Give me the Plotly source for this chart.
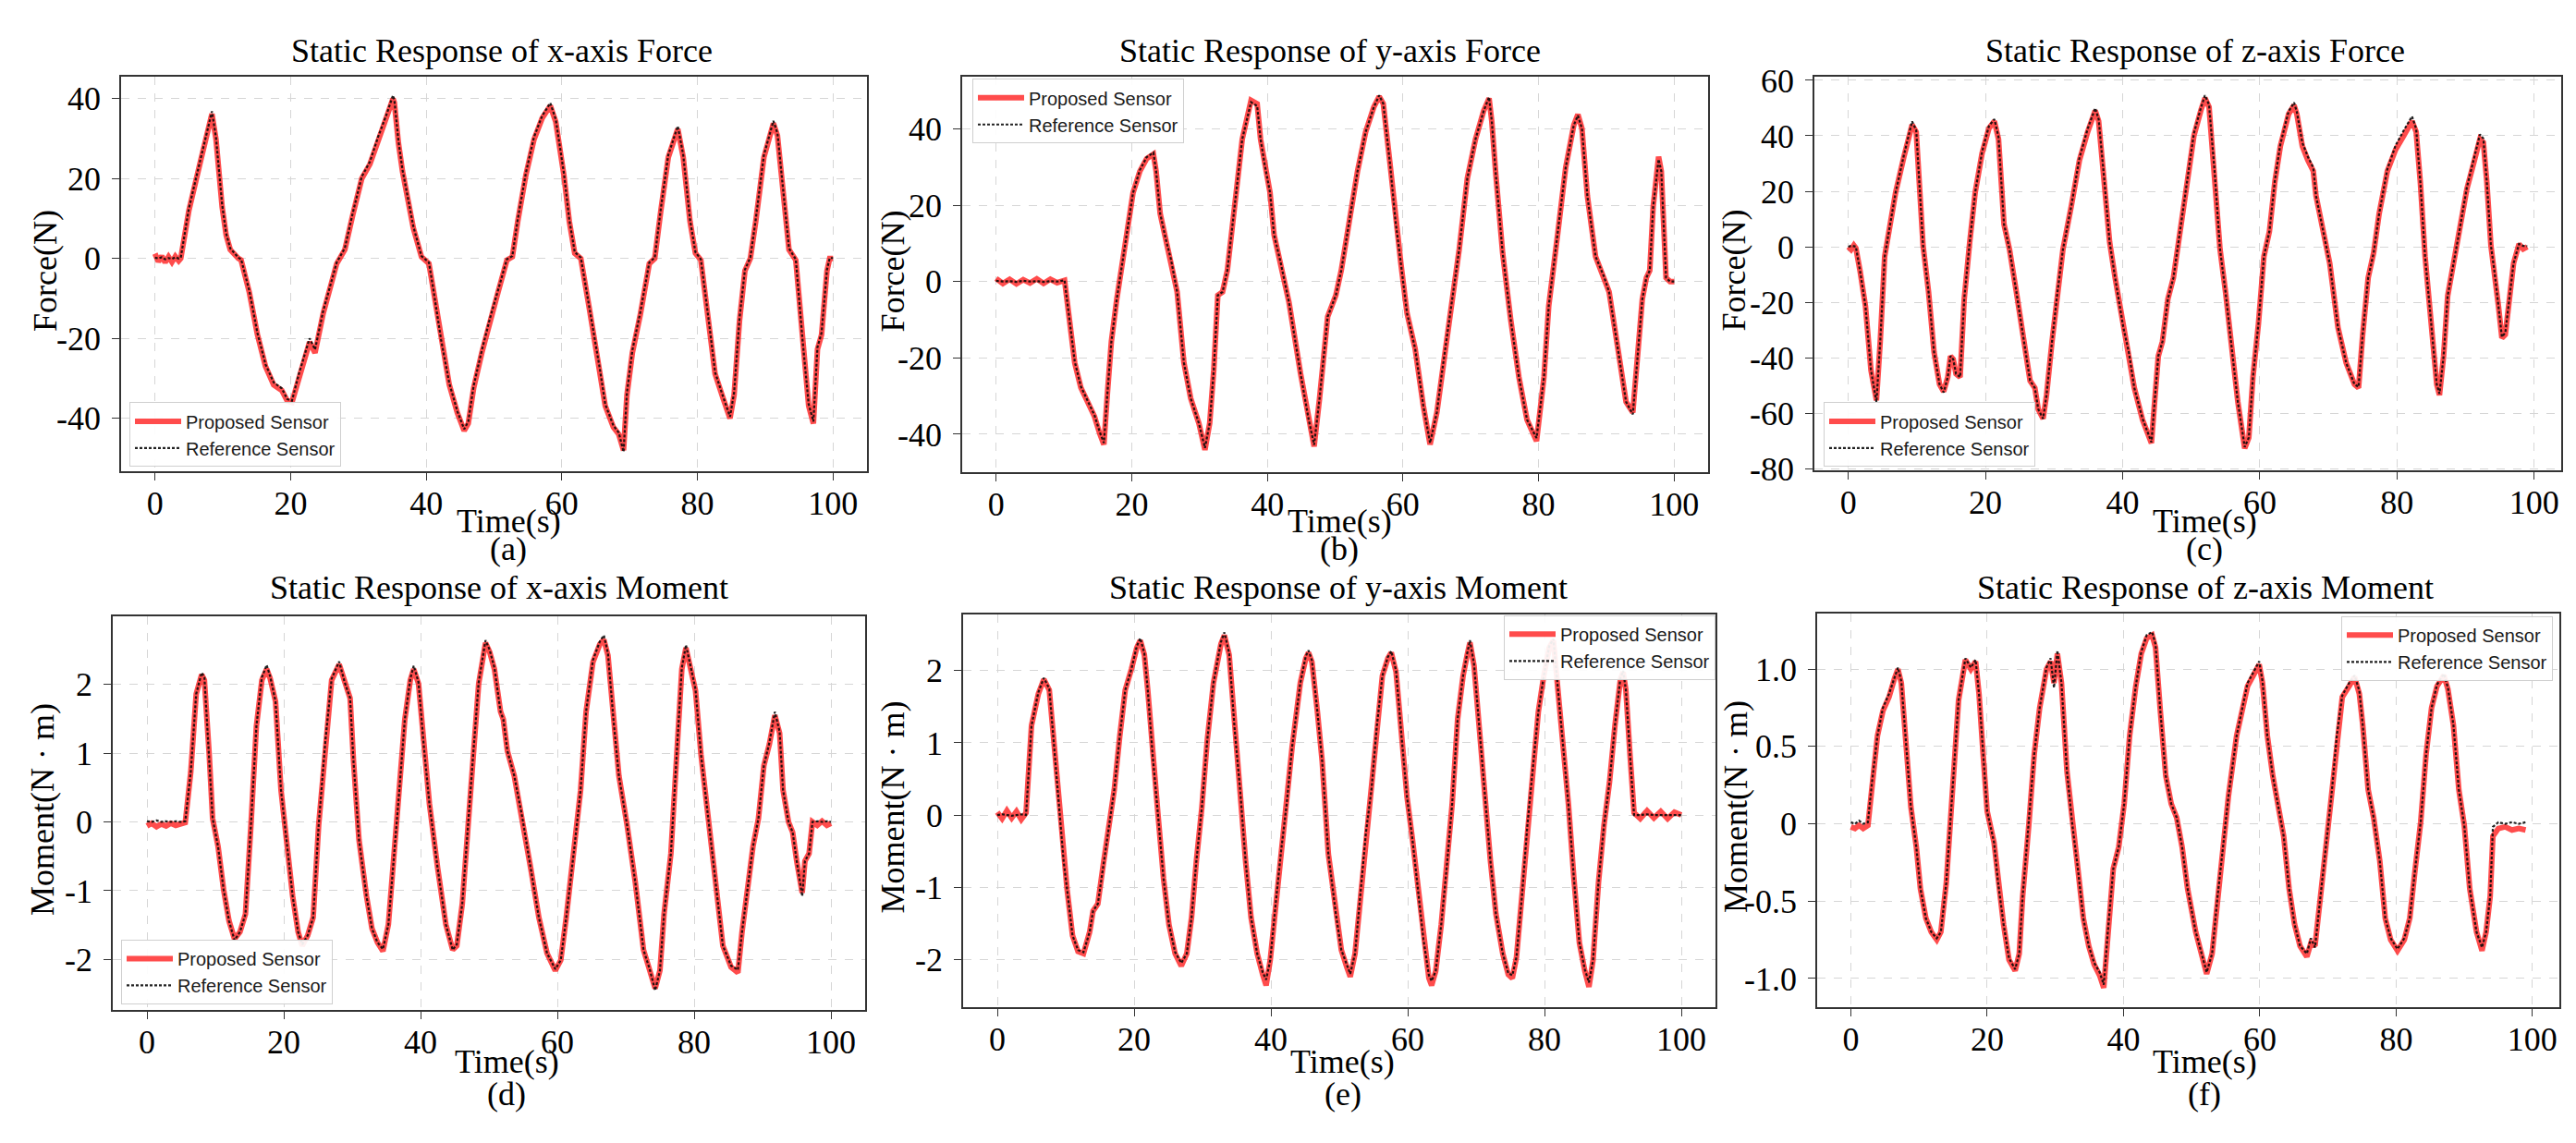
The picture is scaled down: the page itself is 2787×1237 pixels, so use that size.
import plotly.graph_objects as go

# ---------------- data ----------------
t_a = [0, 0.5, 1.0, 1.5, 2.0, 2.5, 3.0, 3.5, 3.8, 5.0,
       6.6, 8.2, 8.4, 9.0, 9.9, 10.5, 11.1, 12.3, 12.7, 13.9,
       15.1, 16.3, 17.5, 18.7, 19.5, 20.2, 21.2, 22.8, 23.6, 24.8,
       26.8, 27.2, 28.0, 29.2, 30.5, 31.7, 32.9, 34.1, 35.1, 35.3,
       35.9, 36.5, 38.1, 39.3, 40.4, 41.0, 42.2, 43.4, 44.6, 45.6,
       46.2, 47.0, 48.2, 49.4, 50.6, 51.9, 52.7, 53.5, 54.7, 55.9,
       57.1, 58.3, 59.1, 60.3, 61.1, 61.9, 62.8, 64.0, 65.6, 66.4,
       67.6, 68.4, 69.1, 69.6, 70.4, 71.6, 72.9, 73.7, 74.6, 75.7,
       77.1, 77.9, 78.9, 79.7, 80.5, 81.7, 82.6, 83.8, 84.8, 85.4,
       86.2, 87.0, 87.8, 88.6, 89.8, 91.2, 91.8, 92.6, 93.5, 94.5,
       95.5, 96.4, 97.1, 97.7, 98.3, 99.1, 99.5, 100.0]
prop_a = [1.2, -0.8, 0.6, -1.0, 0.4, -0.9, 0.5, -0.6, 0.0, 12.0,
          23.5, 35.0, 36.2, 29.8, 12.9, 5.8, 2.2, 0.0, -0.4, -8.4,
          -19.0, -27.0, -31.6, -33.0, -35.6, -36.0, -29.8, -20.9, -23.6, -13.8,
          -1.3, 0.0, 2.2, 11.1, 20.0, 23.6, 29.8, 35.1, 40.0, 39.0,
          28.9, 21.8, 7.6, 0.4, -1.3, -7.6, -20.9, -31.6, -38.7, -43.1,
          -41.3, -32.4, -23.6, -15.6, -8.4, -0.4, 0.4, 9.3, 20.9, 29.8,
          35.1, 38.2, 34.2, 20.9, 9.3, 1.3, 0.0, -12.0, -28.0, -36.9,
          -42.2, -44.0, -48.0, -34.2, -23.6, -13.8, -1.3, 0.0, 12.0, 25.3,
          32.4, 25.3, 9.3, 1.3, -0.4, -16.4, -28.9, -35.1, -40.0, -34.2,
          -15.6, -3.1, 0.0, 9.3, 25.3, 33.8, 30.7, 17.3, 2.2, -0.4,
          -20.9, -36.9, -41.3, -22.7, -19.1, -3.1, 0.0, 0.0]
ref_a = [0.2, 0.0, 0.3, -0.2, 0.1, -0.1, 0.3, 0.0, 0.2, 12.5,
         24.0, 35.5, 36.8, 30.2, 13.5, 6.2, 2.5, 0.2, -0.2, -8.0,
         -18.6, -26.5, -31.0, -32.5, -35.2, -35.6, -29.0, -20.0, -22.8, -13.2,
         -1.0, 0.2, 2.6, 11.6, 20.5, 24.2, 30.4, 35.8, 40.8, 39.6,
         29.4, 22.2, 8.0, 0.6, -1.0, -7.2, -20.4, -31.2, -38.3, -42.7,
         -40.8, -31.8, -23.0, -15.0, -8.0, -0.2, 0.6, 9.8, 21.4, 30.4,
         35.7, 38.9, 34.8, 21.4, 9.7, 1.6, 0.2, -11.6, -27.6, -36.5,
         -41.8, -43.6, -48.4, -33.6, -23.0, -13.2, -1.0, 0.2, 12.5, 25.9,
         33.1, 25.9, 9.7, 1.6, -0.2, -16.0, -28.5, -34.7, -39.6, -33.6,
         -15.0, -2.8, 0.2, 9.8, 25.9, 34.4, 31.3, 17.8, 2.5, -0.2,
         -20.4, -36.5, -40.8, -22.2, -18.6, -2.8, 0.1, 0.1]

t_b = [0, 1, 2, 3, 4, 5, 6, 7, 8, 9,
       10.1, 10.9, 11.6, 12.5, 13.7, 14.5, 15.3, 15.9, 16.4, 17.0,
       17.8, 18.6, 19.4, 20.2, 21.2, 22.2, 23.2, 23.6, 24.2, 25.0,
       25.8, 26.7, 27.7, 28.7, 29.9, 30.8, 31.5, 32.1, 32.7, 33.4,
       34.1, 35.1, 36.3, 37.6, 38.5, 39.0, 39.6, 40.4, 41.0, 42.0,
       43.2, 44.9, 46.1, 46.9, 47.7, 48.9, 50.1, 50.9, 52.1, 53.3,
       54.5, 55.7, 56.5, 57.1, 58.1, 58.9, 59.7, 60.6, 61.8, 63.0,
       64.0, 65.0, 65.8, 67.0, 68.3, 69.5, 70.7, 71.9, 72.7, 73.1,
       73.7, 74.7, 75.9, 77.1, 78.3, 79.7, 80.8, 81.5, 82.8, 84.0,
       85.2, 85.8, 86.4, 87.2, 88.4, 89.6, 90.4, 91.7, 92.9, 93.9,
       94.5, 95.3, 95.9, 96.4, 96.9, 97.7, 98.1, 98.8, 99.4, 100.0]
prop_b = [0.8, -0.5, 0.6, -0.6, 0.5, -0.4, 0.7, -0.5, 0.6, -0.3,
          0.3, -11.0, -21.3, -27.8, -32.5, -35.3, -39.9, -42.7, -29.7, -15.7,
          -4.6, 4.7, 14.0, 23.3, 28.9, 32.2, 33.4, 28.9, 17.8, 11.3,
          5.7, -2.7, -21.3, -30.6, -37.1, -44.1, -37.1, -23.2, -3.6, -2.7,
          2.9, 18.7, 37.3, 47.5, 46.6, 37.3, 30.8, 23.3, 12.2, 4.7,
          -5.5, -24.1, -36.2, -43.2, -30.6, -9.2, -3.6, 2.9, 15.9, 28.9,
          39.2, 45.7, 48.5, 46.6, 30.8, 15.9, 4.7, -8.3, -17.6, -32.5,
          -42.7, -34.3, -23.2, -8.3, 8.5, 27.1, 37.3, 44.7, 48.0, 42.0,
          28.0, 7.5, -10.1, -25.0, -36.2, -41.8, -25.0, -6.4, 12.2, 29.9,
          41.0, 43.8, 40.1, 22.4, 6.6, 1.5, -2.7, -17.6, -31.5, -34.3,
          -21.3, -4.6, 1.0, 2.9, 19.6, 32.7, 28.9, 1.0, 0.0, 0.0]
ref_b = [0.2, 0.0, 0.1, -0.1, 0.2, 0.0, 0.1, -0.1, 0.1, 0.0,
         0.3, -11.0, -21.0, -27.5, -32.0, -35.0, -39.5, -42.3, -29.7, -15.7,
         -4.6, 4.7, 14.0, 23.3, 29.2, 32.6, 33.8, 28.9, 17.8, 11.3,
         5.7, -2.7, -21.3, -30.6, -37.1, -43.6, -37.1, -23.2, -3.6, -2.7,
         2.9, 18.7, 37.3, 47.0, 46.0, 37.3, 30.8, 23.3, 12.2, 4.7,
         -5.5, -24.1, -36.2, -42.8, -30.6, -9.2, -3.6, 2.9, 15.9, 28.9,
         39.2, 45.7, 48.8, 46.6, 30.8, 15.9, 4.7, -8.3, -17.6, -32.5,
         -42.3, -34.3, -23.2, -8.3, 8.5, 27.1, 37.3, 44.7, 48.3, 42.0,
         28.0, 7.5, -10.1, -25.0, -36.2, -41.0, -25.0, -6.4, 12.2, 29.9,
         41.0, 43.5, 40.1, 22.4, 6.6, 1.5, -2.7, -17.6, -31.5, -34.8,
         -21.3, -4.6, 1.0, 2.9, 19.6, 32.0, 28.9, 1.0, 0.0, 0.0]

t_c = [0, 0.4, 0.8, 1.1, 1.7, 2.5, 3.3, 4.1, 4.65, 5.3,
       6.1, 6.9, 8.1, 9.3, 9.9, 10.3, 10.9, 11.7, 12.5, 13.3,
       13.9, 14.5, 14.9, 15.3, 15.7, 16.3, 16.9, 17.7, 18.5, 19.5,
       20.5, 21.3, 21.9, 22.7, 23.5, 24.5, 25.3, 26.5, 27.2, 27.7,
       28.4, 28.9, 29.7, 30.5, 31.3, 32.5, 33.7, 34.9, 36.0, 36.5,
       37.3, 38.1, 38.9, 40.1, 40.9, 41.7, 42.9, 44.2, 44.7, 45.2,
       45.8, 46.6, 47.4, 48.3, 49.4, 50.4, 51.4, 52.0, 52.6, 53.4,
       54.2, 55.0, 55.8, 56.8, 57.8, 58.4, 59.0, 59.8, 60.6, 61.4,
       62.2, 63.0, 64.2, 65.0, 65.4, 66.2, 67.0, 67.8, 68.2, 69.4,
       70.2, 71.4, 72.6, 73.8, 74.4, 75.0, 75.8, 76.6, 77.4, 78.6,
       79.8, 81.0, 82.2, 82.8, 83.4, 84.1, 85.0, 85.8, 86.2, 86.8,
       87.4, 88.2, 89.0, 90.2, 91.3, 92.1, 92.6, 93.1, 93.7, 94.2,
       94.8, 95.3, 95.8, 96.4, 97.0, 97.8, 98.4, 99.0]
prop_c = [0.0, -1.0, 0.5, -0.5, -8.6, -21.4, -44.5, -55.4, -34.2, -3.5,
          8.1, 19.6, 32.4, 44.0, 41.4, 23.5, 0.4, -16.3, -38.0, -49.6,
          -52.2, -47.0, -39.4, -40.6, -45.8, -47.0, -18.8, 1.7, 19.6, 33.7,
          42.7, 45.3, 38.8, 8.1, -0.9, -16.3, -29.1, -48.3, -50.9, -58.6,
          -62.0, -53.5, -34.2, -16.3, -0.9, 14.5, 31.2, 41.4, 49.1, 45.3,
          24.7, 1.7, -11.2, -29.1, -38.0, -50.9, -62.4, -70.8, -54.7, -39.4,
          -34.2, -18.8, -11.2, 4.2, 23.5, 40.1, 49.1, 53.6, 50.4, 27.3,
          -0.9, -16.3, -34.2, -56.0, -72.7, -68.8, -47.0, -27.8, -3.5, 5.5,
          23.5, 36.3, 47.8, 51.0, 47.8, 36.3, 31.2, 27.3, 18.3, 4.2,
          -6.0, -29.1, -41.9, -49.6, -50.9, -31.7, -11.2, -2.2, 11.9, 27.3,
          35.0, 40.1, 45.3, 41.4, 23.5, -3.5, -29.1, -49.6, -53.5, -39.4,
          -17.6, -7.3, 4.2, 20.9, 31.2, 38.8, 37.6, 23.5, 0.4, -8.6,
          -21.4, -32.9, -31.7, -18.8, -6.0, 1.0, -0.8, 0.0]
ref_c = [0.0, 0.3, 0.2, 0.0, -8.6, -21.4, -44.5, -56.0, -34.2, -3.5,
         8.1, 19.6, 33.0, 45.2, 42.0, 23.5, 0.4, -16.3, -38.0, -49.6,
         -52.5, -47.0, -39.4, -40.6, -45.8, -47.0, -18.8, 1.7, 19.6, 34.2,
         43.5, 46.0, 39.5, 8.1, -0.9, -16.3, -29.1, -48.3, -50.9, -58.6,
         -62.0, -53.5, -34.2, -16.3, -0.9, 14.5, 32.0, 42.5, 50.0, 46.0,
         24.7, 1.7, -11.2, -29.1, -38.0, -50.9, -62.0, -70.5, -54.7, -39.4,
         -34.2, -18.8, -11.2, 4.2, 24.0, 41.0, 50.0, 54.6, 51.2, 27.3,
         -0.9, -16.3, -34.2, -56.0, -72.2, -68.8, -47.0, -27.8, -3.5, 5.5,
         24.0, 37.0, 48.8, 52.0, 48.6, 37.5, 32.5, 28.5, 18.3, 4.2,
         -6.0, -29.1, -41.9, -49.6, -50.5, -31.7, -11.2, -2.2, 11.9, 28.0,
         36.5, 42.0, 47.0, 42.5, 23.5, -3.5, -29.1, -49.6, -53.0, -39.4,
         -17.6, -7.3, 4.2, 21.5, 33.0, 40.5, 39.0, 23.5, 0.4, -8.6,
         -21.4, -32.5, -31.0, -18.8, -6.0, 1.0, 0.3, 0.2]

t_d = [0, 0.7, 1.4, 2.1, 2.8, 3.5, 4.2, 4.9, 5.6, 6.4,
       7.2, 8.0, 8.4, 9.1, 9.6, 10.4, 11.2, 12.0, 12.8, 13.6,
       14.4, 15.2, 16.0, 16.8, 17.5, 18.0, 18.8, 19.6, 20.4, 21.3,
       22.1, 22.7, 23.5, 24.3, 25.1, 26.1, 27.0, 28.1, 28.9, 29.7,
       30.2, 31.0, 32.1, 32.9, 33.7, 34.5, 35.3, 36.1, 36.9, 37.7,
       38.5, 39.0, 39.7, 40.5, 41.3, 42.5, 43.7, 44.7, 45.3, 46.1,
       46.9, 47.7, 48.5, 49.5, 50.1, 50.8, 51.7, 52.1, 52.7, 53.7,
       54.9, 56.1, 57.3, 58.5, 59.7, 60.5, 61.3, 62.5, 63.4, 64.2,
       65.2, 66.2, 66.8, 67.4, 68.2, 69.0, 70.2, 71.4, 72.6, 73.5,
       74.3, 75.0, 75.6, 76.6, 77.4, 78.2, 78.8, 79.4, 80.2, 81.0,
       82.2, 83.4, 84.2, 85.4, 86.4, 87.0, 87.8, 88.6, 89.4, 90.2,
       91.0, 91.8, 92.5, 93.0, 93.8, 94.4, 95.0, 95.8, 96.2, 96.8,
       97.3, 98.0, 98.7, 99.4, 100.0]
prop_d = [-0.06, -0.02, -0.07, -0.03, -0.06, -0.02, -0.05, -0.03, -0.01, 0.72,
          1.86, 2.14, 2.06, 0.98, 0.05, -0.36, -0.98, -1.44, -1.70, -1.60,
          -1.34, -0.05, 1.39, 2.06, 2.22, 2.09, 1.75, 0.46, -0.26, -1.08,
          -1.60, -1.80, -1.65, -1.39, -0.05, 1.19, 2.06, 2.29, 2.01, 1.80,
          0.88, -0.26, -1.08, -1.55, -1.75, -1.88, -1.49, -0.57, 0.46, 1.49,
          2.06, 2.22, 2.01, 1.08, 0.26, -0.67, -1.49, -1.86, -1.80, -1.19,
          -0.05, 0.98, 2.01, 2.60, 2.47, 2.22, 1.60, 1.49, 1.03, 0.67,
          0.05, -0.67, -1.39, -1.91, -2.16, -2.01, -1.39, -0.36, 0.46, 1.60,
          2.32, 2.58, 2.65, 2.42, 1.49, 0.67, -0.05, -0.88, -1.86, -2.16,
          -2.42, -2.16, -1.34, -0.46, 0.98, 2.22, 2.53, 2.27, 1.91, 0.98,
          -0.05, -1.08, -1.80, -2.11, -2.19, -1.60, -0.98, -0.36, 0.05, 0.82,
          1.13, 1.55, 1.29, 0.46, 0.00, -0.15, -0.57, -1.03, -0.57, -0.46,
          0.00, -0.05, 0.01, -0.05, -0.02]
ref_d = [0.01, 0.00, 0.02, 0.00, 0.01, 0.00, 0.01, 0.00, 0.01, 0.72,
         1.86, 2.17, 2.10, 0.98, 0.05, -0.36, -0.98, -1.44, -1.72, -1.60,
         -1.34, -0.05, 1.39, 2.10, 2.28, 2.12, 1.75, 0.46, -0.26, -1.08,
         -1.60, -1.78, -1.65, -1.39, -0.05, 1.19, 2.08, 2.33, 2.03, 1.80,
         0.88, -0.26, -1.08, -1.55, -1.75, -1.85, -1.49, -0.57, 0.46, 1.49,
         2.08, 2.27, 2.03, 1.08, 0.26, -0.67, -1.49, -1.86, -1.78, -1.19,
         -0.05, 0.98, 2.03, 2.64, 2.50, 2.24, 1.60, 1.49, 1.03, 0.67,
         0.05, -0.67, -1.39, -1.91, -2.14, -2.01, -1.39, -0.36, 0.46, 1.60,
         2.35, 2.62, 2.71, 2.45, 1.49, 0.67, -0.05, -0.88, -1.86, -2.14,
         -2.45, -2.16, -1.34, -0.46, 0.98, 2.24, 2.57, 2.30, 1.93, 0.98,
         -0.05, -1.08, -1.80, -2.09, -2.15, -1.60, -0.98, -0.36, 0.05, 0.82,
         1.15, 1.60, 1.31, 0.46, 0.00, -0.15, -0.57, -1.08, -0.57, -0.46,
         0.00, 0.01, 0.00, 0.01, 0.00]

t_e = [0, 0.7, 1.4, 2.1, 2.8, 3.5, 4.2, 5.0, 6.0, 6.8,
       7.6, 8.2, 9.0, 9.7, 10.2, 11.0, 11.8, 12.6, 13.5, 14.0,
       14.7, 15.5, 16.3, 17.1, 17.9, 18.7, 19.6, 20.4, 20.9, 21.5,
       22.0, 22.7, 23.5, 24.3, 25.1, 26.0, 26.9, 27.7, 28.4, 29.1,
       29.9, 30.7, 31.6, 32.7, 33.2, 33.9, 34.7, 35.5, 36.3, 37.1,
       38.0, 38.8, 39.3, 39.9, 40.7, 41.5, 42.3, 43.1, 44.3, 45.1,
       45.5, 46.0, 46.8, 47.5, 48.4, 49.5, 50.3, 51.1, 51.6, 52.3,
       53.1, 53.9, 54.7, 55.5, 56.3, 57.1, 57.6, 58.3, 59.1, 59.9,
       60.7, 61.5, 62.3, 63.1, 63.5, 64.1, 64.9, 65.7, 66.5, 67.3,
       68.1, 68.7, 69.1, 69.7, 70.5, 71.3, 72.1, 72.9, 73.9, 74.7,
       75.3, 75.9, 76.7, 77.5, 78.3, 79.1, 79.9, 80.7, 81.3, 81.9,
       82.7, 83.5, 84.3, 85.1, 85.9, 86.5, 87.1, 87.9, 88.7, 89.5,
       90.3, 91.1, 91.5, 91.9, 92.5, 93.1, 94.0, 95.0, 96.0, 97.0,
       98.0, 99.0, 100.0]
prop_e = [0.04, -0.05, 0.06, -0.04, 0.05, -0.06, 0.03, 1.24, 1.68, 1.88,
          1.73, 1.09, 0.15, -0.64, -1.03, -1.67, -1.89, -1.92, -1.62, -1.33,
          -1.23, -0.68, -0.14, 0.35, 1.09, 1.73, 2.02, 2.32, 2.42, 2.22,
          1.73, 0.84, 0.00, -0.88, -1.52, -1.92, -2.09, -1.92, -1.42, -0.64,
          0.10, 1.04, 1.83, 2.37, 2.49, 2.22, 1.19, 0.35, -0.64, -1.42,
          -1.92, -2.21, -2.36, -2.01, -1.23, -0.49, 0.15, 0.94, 1.83, 2.17,
          2.25, 2.12, 1.43, 0.74, -0.54, -1.37, -1.87, -2.11, -2.24, -1.92,
          -1.13, -0.24, 0.35, 1.24, 1.93, 2.17, 2.25, 1.98, 1.09, 0.25,
          -0.34, -1.03, -1.72, -2.26, -2.36, -2.16, -1.52, -0.73, 0.15, 1.33,
          1.93, 2.22, 2.39, 2.07, 1.14, 0.25, -0.64, -1.37, -1.92, -2.21,
          -2.26, -1.97, -1.13, -0.14, 0.65, 1.43, 1.93, 2.32, 2.42, 1.83,
          0.99, 0.15, -0.88, -1.77, -2.16, -2.38, -2.01, -0.93, -0.14, 0.45,
          1.24, 1.88, 1.98, 1.73, 0.84, 0.03, -0.05, 0.06, -0.04, 0.05,
          -0.05, 0.04, 0.00]
ref_e = [0.00, 0.01, 0.00, -0.01, 0.00, 0.01, 0.00, 1.24, 1.70, 1.90,
         1.75, 1.09, 0.15, -0.64, -1.03, -1.67, -1.87, -1.90, -1.62, -1.33,
         -1.23, -0.68, -0.14, 0.35, 1.09, 1.73, 2.02, 2.34, 2.45, 2.24,
         1.73, 0.84, 0.00, -0.88, -1.52, -1.90, -2.05, -1.92, -1.42, -0.64,
         0.10, 1.04, 1.83, 2.40, 2.53, 2.24, 1.19, 0.35, -0.64, -1.42,
         -1.92, -2.18, -2.28, -2.01, -1.23, -0.49, 0.15, 0.94, 1.83, 2.20,
         2.28, 2.14, 1.43, 0.74, -0.54, -1.37, -1.87, -2.09, -2.20, -1.92,
         -1.13, -0.24, 0.35, 1.24, 1.93, 2.19, 2.27, 2.00, 1.09, 0.25,
         -0.34, -1.03, -1.72, -2.22, -2.30, -2.16, -1.52, -0.73, 0.15, 1.33,
         1.93, 2.24, 2.42, 2.09, 1.14, 0.25, -0.64, -1.37, -1.92, -2.19,
         -2.22, -1.97, -1.13, -0.14, 0.65, 1.43, 1.93, 2.34, 2.44, 1.83,
         0.99, 0.15, -0.88, -1.77, -2.14, -2.32, -2.01, -0.93, -0.14, 0.45,
         1.24, 1.90, 2.00, 1.73, 0.84, 0.00, 0.00, 0.01, 0.00, 0.00,
         0.00, 0.00, 0.00]

t_f = [0, 0.6, 1.2, 1.8, 2.5, 3.1, 3.9, 4.7, 5.6, 6.4,
       6.9, 7.4, 8.0, 8.8, 9.6, 10.2, 11.0, 11.8, 12.6, 13.2,
       14.0, 14.6, 15.2, 15.8, 16.8, 17.6, 18.3, 18.8, 19.4, 20.0,
       21.0, 21.6, 22.4, 23.2, 24.1, 24.7, 25.2, 26.1, 26.9, 27.7,
       28.7, 29.3, 29.8, 30.3, 30.9, 31.7, 32.5, 33.3, 34.1, 34.9,
       35.7, 36.5, 37.1, 37.7, 38.5, 39.3, 40.1, 40.9, 41.8, 42.6,
       43.4, 44.2, 44.7, 45.4, 46.2, 47.0, 47.8, 48.6, 49.4, 50.6,
       51.6, 52.2, 53.0, 53.8, 54.6, 55.4, 56.6, 57.4, 58.2, 59.3,
       59.9, 60.4, 61.1, 61.9, 62.8, 63.5, 64.3, 65.1, 65.9, 66.9,
       67.5, 68.1, 68.9, 69.7, 70.5, 71.3, 72.1, 73.1, 73.9, 74.6,
       75.1, 75.9, 76.7, 77.6, 78.4, 79.2, 80.2, 81.2, 82.0, 82.8,
       83.6, 84.4, 85.2, 86.0, 87.0, 87.6, 88.4, 89.2, 90.0, 90.8,
       91.8, 92.6, 93.2, 93.8, 94.2, 95.0, 96.0, 97.0, 98.0, 99.0]
prop_f = [-0.02, -0.03, -0.01, -0.03, -0.01, 0.27, 0.57, 0.73, 0.82, 0.94,
          1.00, 0.91, 0.57, 0.11, -0.15, -0.42, -0.61, -0.70, -0.75, -0.70,
          -0.38, -0.01, 0.41, 0.80, 1.06, 1.00, 1.05, 0.84, 0.45, 0.08,
          -0.12, -0.38, -0.65, -0.88, -0.95, -0.84, -0.47, -0.01, 0.45, 0.75,
          1.00, 1.05, 0.91, 1.10, 0.91, 0.34, -0.01, -0.29, -0.61, -0.79,
          -0.91, -0.98, -1.06, -0.70, -0.29, -0.15, 0.13, 0.57, 0.89, 1.10,
          1.20, 1.22, 1.14, 0.73, 0.31, 0.13, 0.04, -0.15, -0.42, -0.70,
          -0.86, -0.97, -0.84, -0.47, -0.15, 0.18, 0.57, 0.73, 0.89, 0.98,
          1.03, 0.91, 0.57, 0.31, 0.08, -0.08, -0.42, -0.65, -0.79, -0.86,
          -0.77, -0.79, -0.47, -0.15, 0.18, 0.57, 0.82, 0.89, 0.95, 0.84,
          0.64, 0.22, 0.04, -0.24, -0.61, -0.75, -0.82, -0.75, -0.61, -0.29,
          0.01, 0.45, 0.75, 0.89, 0.96, 0.87, 0.64, 0.22, -0.01, -0.42,
          -0.70, -0.82, -0.70, -0.47, -0.08, -0.03, -0.02, -0.04, -0.03, -0.04]
ref_f = [0.01, 0.00, 0.02, 0.00, 0.01, 0.27, 0.57, 0.75, 0.84, 0.95,
         1.01, 0.92, 0.57, 0.11, -0.15, -0.42, -0.61, -0.70, -0.74, -0.70,
         -0.38, -0.01, 0.41, 0.80, 1.07, 1.01, 1.06, 0.84, 0.45, 0.08,
         -0.12, -0.38, -0.65, -0.87, -0.94, -0.84, -0.47, -0.01, 0.45, 0.75,
         1.01, 1.07, 0.88, 1.12, 0.91, 0.34, -0.01, -0.29, -0.61, -0.79,
         -0.90, -0.96, -1.04, -0.70, -0.29, -0.15, 0.13, 0.57, 0.89, 1.11,
         1.22, 1.24, 1.16, 0.73, 0.31, 0.13, 0.04, -0.15, -0.42, -0.70,
         -0.86, -0.96, -0.84, -0.47, -0.15, 0.18, 0.57, 0.75, 0.91, 1.00,
         1.05, 0.92, 0.57, 0.31, 0.08, -0.08, -0.42, -0.65, -0.79, -0.84,
         -0.74, -0.80, -0.47, -0.15, 0.18, 0.57, 0.83, 0.91, 0.96, 0.86,
         0.64, 0.22, 0.04, -0.24, -0.61, -0.74, -0.81, -0.74, -0.61, -0.29,
         0.01, 0.45, 0.75, 0.90, 0.97, 0.88, 0.64, 0.22, -0.01, -0.42,
         -0.70, -0.80, -0.70, -0.47, -0.02, 0.01, 0.00, 0.01, 0.00, 0.01]

# tick labels
x_tickvals = [0, 20, 40, 60, 80, 100]
x_ticktext = ["0", "20", "40", "60", "80", "100"]
y_ticks_ab = [-40, -20, 0, 20, 40]
y_text_ab = ["-40", "-20", "0", "20", "40"]
y_ticks_c = [-80, -60, -40, -20, 0, 20, 40, 60]
y_text_c = ["-80", "-60", "-40", "-20", "0", "20", "40", "60"]
y_ticks_de = [-2, -1, 0, 1, 2]
y_text_de = ["-2", "-1", "0", "1", "2"]
y_ticks_f = [-1.0, -0.5, 0, 0.5, 1.0]
y_text_f = ["-1.0", "-0.5", "0", "0.5", "1.0"]

titles = ["Static Response of x-axis Force", "Static Response of y-axis Force",
          "Static Response of z-axis Force", "Static Response of x-axis Moment",
          "Static Response of y-axis Moment", "Static Response of z-axis Moment"]
ylabels = ["Force(N)", "Force(N)", "Force(N)",
           "Moment(N · m)", "Moment(N · m)", "Moment(N · m)"]
sublabels = ["(a)", "(b)", "(c)", "(d)", "(e)", "(f)"]
legend_names = ["Proposed Sensor", "Reference Sensor"]

# ---------------- layout (pixels in a 2787 x 1237 canvas) ----------------
W, H = 2787, 1237
panels = [
    dict(t=t_a, prop=prop_a, ref=ref_a, box=(123, 930, 61, 500), xr=[-5, 105], yr=[-53.3, 45.4],
         yt=(y_ticks_ab, y_text_ab), tcx=535, xlx=542, ylx=41, leg=dict(x=132, y=495, xa="left", ya="bottom")),
    dict(t=t_b, prop=prop_b, ref=ref_b, box=(1033, 1840, 61, 501), xr=[-5, 105], yr=[-50.0, 53.6],
         yt=(y_ticks_ab, y_text_ab), tcx=1431, xlx=1441, ylx=958, leg=dict(x=1044, y=63, xa="left", ya="top")),
    dict(t=t_c, prop=prop_c, ref=ref_c, box=(1955, 2763, 61, 499), xr=[-4.95, 103.95], yr=[-80.7, 61.2],
         yt=(y_ticks_c, y_text_c), tcx=2367, xlx=2377, ylx=1868, leg=dict(x=1965, y=495, xa="left", ya="bottom")),
    dict(t=t_d, prop=prop_d, ref=ref_d, box=(114, 928, 661, 1099), xr=[-5, 105], yr=[-2.73, 2.99],
         yt=(y_ticks_de, y_text_de), tcx=532, xlx=540, ylx=38, leg=dict(x=123, y=1093, xa="left", ya="bottom")),
    dict(t=t_e, prop=prop_e, ref=ref_e, box=(1034, 1848, 659, 1096), xr=[-5, 105], yr=[-2.66, 2.78],
         yt=(y_ticks_de, y_text_de), tcx=1440, xlx=1445, ylx=958, leg=dict(x=1848, y=660, xa="right", ya="top")),
    dict(t=t_f, prop=prop_f, ref=ref_f, box=(1958, 2761, 658, 1096), xr=[-4.95, 103.95], yr=[-1.185, 1.36],
         yt=(y_ticks_f, y_text_f), tcx=2378, xlx=2377, ylx=1870, leg=dict(x=2754, y=661, xa="right", ya="top")),
]

SERIF = "Liberation Serif, Times New Roman, serif"
SANS = "Liberation Sans, Arial, sans-serif"

def px(x):
    return x / W

def py(y):
    return 1 - y / H

fig = go.Figure()
layout = dict(width=W, height=H, autosize=False, margin=dict(l=0, r=0, t=0, b=0),
              paper_bgcolor="white", plot_bgcolor="white", annotations=[])

for k, p in enumerate(panels, start=1):
    sfx = "" if k == 1 else str(k)
    xa, ya, lg = "x" + sfx, "y" + sfx, "legend" + sfx
    fig.add_trace(go.Scatter(x=p["t"], y=p["prop"], mode="lines", name=legend_names[0],
                             line=dict(color="rgba(255,20,20,0.76)", width=6),
                             xaxis=xa, yaxis=ya, legend=lg, hoverinfo="skip"))
    fig.add_trace(go.Scatter(x=p["t"], y=p["ref"], mode="lines", name=legend_names[1],
                             line=dict(color="rgba(10,10,10,0.9)", width=2.2, dash="3px,2px"),
                             xaxis=xa, yaxis=ya, legend=lg, hoverinfo="skip"))
    l, r, top, bot = p["box"]
    common = dict(showline=True, linecolor="#333333", linewidth=1.5, mirror=True,
                  ticks="outside", ticklen=8, tickwidth=1.2, tickcolor="#333333",
                  showgrid=True, gridcolor="#d6d6d6", gridwidth=1, griddash="dash",
                  zeroline=False, tickfont=dict(family=SERIF, size=36, color="black"))
    layout["xaxis" + sfx] = dict(common, domain=[px(l), px(r)], range=p["xr"], anchor=ya,
                                 tickmode="array", tickvals=x_tickvals, ticktext=x_ticktext,
                                 ticklabelstandoff=-6)
    layout["yaxis" + sfx] = dict(common, domain=[py(bot), py(top)], range=p["yr"], anchor=xa,
                                 tickmode="array", tickvals=p["yt"][0], ticktext=p["yt"][1],
                                 ticklabelstandoff=5)
    lgd = p["leg"]
    layout[lg] = dict(x=px(lgd["x"]), y=py(lgd["y"]), xanchor=lgd["xa"], yanchor=lgd["ya"],
                      xref="paper", yref="paper",
                      font=dict(family=SANS, size=20, color="#1a1a1a"),
                      bgcolor="rgba(255,255,255,0.92)", bordercolor="#cfcfcf", borderwidth=1,
                      itemwidth=50, tracegroupgap=0)
    row_top = k <= 3
    t_y = 32 if row_top else 629
    xl_y = 555 if row_top else 1157
    sub_y = 586 if row_top else 1193
    cy = (top + bot) / 2
    layout["annotations"] += [
        dict(text=titles[k - 1], x=px(p["tcx"]), y=py(t_y), xref="paper", yref="paper",
             xanchor="center", yanchor="middle", showarrow=False,
             font=dict(family=SERIF, size=36, color="black")),
        dict(text="Time(s)", x=px(p["xlx"]), y=py(xl_y), xref="paper", yref="paper",
             xanchor="center", yanchor="middle", showarrow=False,
             font=dict(family=SERIF, size=36, color="black")),
        dict(text=sublabels[k - 1], x=px(p["xlx"]), y=py(sub_y), xref="paper", yref="paper",
             xanchor="center", yanchor="middle", showarrow=False,
             font=dict(family=SERIF, size=36, color="black")),
        dict(text=ylabels[k - 1], x=px(p["ylx"]), y=py(cy - 4), xref="paper", yref="paper",
             xanchor="center", yanchor="middle", showarrow=False, textangle=-90,
             font=dict(family=SERIF, size=36, color="black")),
    ]

fig.update_layout(**layout)
fig.write_html("out.html")
